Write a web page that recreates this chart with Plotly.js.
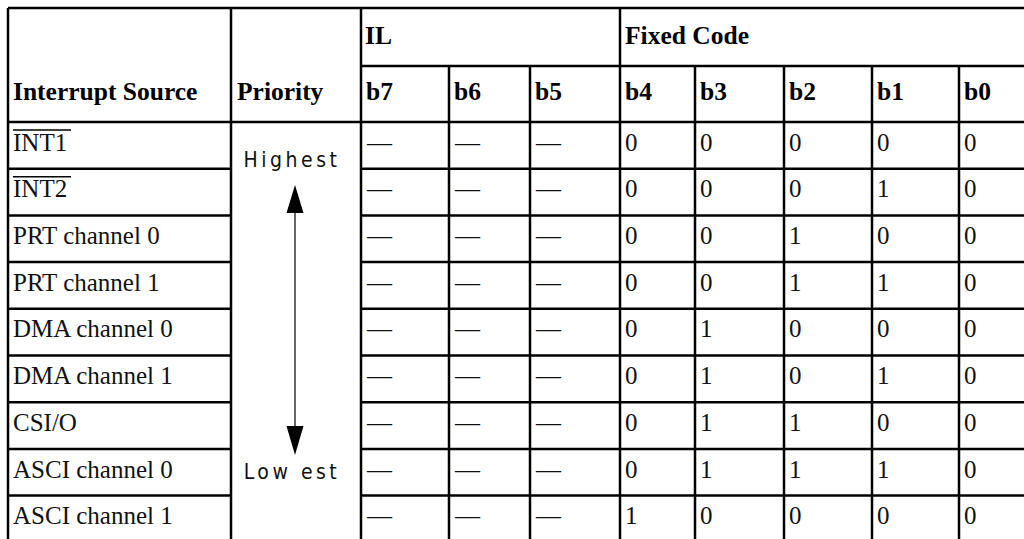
<!DOCTYPE html>
<html><head><meta charset="utf-8">
<script src="https://cdn.plot.ly/plotly-3.0.1.min.js"></script>
<style>html,body{margin:0;padding:0;background:#fff;overflow:hidden}</style>
</head><body><div id="chart" style="width:1024px;height:539px"></div>
<script>
// ---- data ----
const sources = ["INT1", "INT2", "PRT channel 0", "PRT channel 1", "DMA channel 0",
                 "DMA channel 1", "CSI/O", "ASCI channel 0", "ASCI channel 1"];
const activeLow = ["INT1", "INT2"];
const columnHeaders = ["Interrupt Source", "Priority"];
const groupHeaders = ["IL", "Fixed Code"];
const ilBits = ["b7", "b6", "b5"];
const fixedBits = ["b4", "b3", "b2", "b1", "b0"];
const ilValues = [
  ["—", "—", "—"], ["—", "—", "—"], ["—", "—", "—"],
  ["—", "—", "—"], ["—", "—", "—"], ["—", "—", "—"],
  ["—", "—", "—"], ["—", "—", "—"], ["—", "—", "—"]
];
const fixedCode = [
  [0, 0, 0, 0, 0],
  [0, 0, 0, 1, 0],
  [0, 0, 1, 0, 0],
  [0, 0, 1, 1, 0],
  [0, 1, 0, 0, 0],
  [0, 1, 0, 1, 0],
  [0, 1, 1, 0, 0],
  [0, 1, 1, 1, 0],
  [1, 0, 0, 0, 0]
];
const priorityLabels = ["Highest", "Low est"];

// ---- layout geometry ----
const W = 1024, H = 539;
const colEdges = [8, 231, 361, 449, 530, 620, 695, 784, 872, 959, 1046];
const topY = 8, groupY = 66, headY = 122, rowH = 46.7;
const pad = 5;
const lineW = 2.5;
const serif = "Liberation Serif, Times New Roman, serif";
const narrow = "DejaVu Sans Condensed, Liberation Sans Narrow, Arial Narrow, sans-serif";

const rowTop = i => headY + i * rowH;
const rowMid = i => rowTop(i) + rowH / 2 - 1;
const bottomY = rowTop(sources.length);

// header text trace
const hx = [], hy = [], ht = [];
hx.push(colEdges[0] + pad, colEdges[1] + pad + 1); hy.push((groupY + headY) / 2, (groupY + headY) / 2);
ht.push(columnHeaders[0], columnHeaders[1]);
hx.push(colEdges[2] + pad - 1, colEdges[5] + pad); hy.push((topY + groupY) / 2 + 1, (topY + groupY) / 2 + 1);
ht.push(groupHeaders[0], groupHeaders[1]);
const bits = ilBits.concat(fixedBits);
bits.forEach((b, k) => { hx.push(colEdges[2 + k] + pad); hy.push((groupY + headY) / 2); ht.push(b); });

// body text trace
const bx = [], by = [], bt = [];
sources.forEach((s, i) => {
  bx.push(colEdges[0] + pad); by.push(rowMid(i)); bt.push(s);
  ilValues[i].forEach((v, k) => { bx.push(colEdges[2 + k] + pad + 1); by.push(rowMid(i)); bt.push(v); });
  fixedCode[i].forEach((v, k) => { bx.push(colEdges[5 + k] + pad); by.push(rowMid(i)); bt.push(String(v)); });
});

const priCx = (colEdges[1] + colEdges[2]) / 2 - 1;
const labelCx = priCx - 3;
const traces = [
  { type: "scatter", mode: "text", x: hx, y: hy, text: ht.map(t => "<b>" + t + "</b>"),
    textposition: "middle right", textfont: { family: serif, size: 25.5, color: "#000" },
    hoverinfo: "skip", showlegend: false },
  { type: "scatter", mode: "text", x: bx, y: by, text: bt,
    textposition: "middle right", textfont: { family: serif, size: 25, color: "#111" },
    hoverinfo: "skip", showlegend: false },
  { type: "scatter", mode: "text", x: [labelCx, labelCx], y: [rowMid(0) + 17, rowMid(7) + 2],
    text: priorityLabels.map(t => '<span style="letter-spacing:3.5px">' + t + '</span>'),
    textposition: "middle center", textfont: { family: narrow, size: 21, color: "#111" },
    hoverinfo: "skip", showlegend: false }
];

// grid lines
const shapes = [];
const ln = (x0, y0, x1, y1, w) => shapes.push({ type: "line", xref: "x", yref: "y", x0, y0, x1, y1,
  line: { color: "#000", width: w || lineW } });
ln(colEdges[0], topY, colEdges[colEdges.length - 1], topY);            // top border
ln(colEdges[2], groupY, colEdges[colEdges.length - 1], groupY);        // under group headers
ln(colEdges[0], headY, colEdges[colEdges.length - 1], headY);          // under headers
for (let i = 1; i <= sources.length; i++) {
  ln(colEdges[0], rowTop(i), colEdges[1], rowTop(i));
  ln(colEdges[2], rowTop(i), colEdges[colEdges.length - 1], rowTop(i));
}
[0, 1, 2, 5, 10].forEach(k => ln(colEdges[k], topY, colEdges[k], bottomY));
[3, 4, 6, 7, 8, 9].forEach(k => ln(colEdges[k], groupY, colEdges[k], bottomY));

// overlines for active-low signals
sources.forEach((s, i) => {
  if (activeLow.includes(s)) ln(colEdges[0] + pad, rowTop(i) + 8, colEdges[0] + pad + 58, rowTop(i) + 8, 1.6);
});

// priority arrow
const upTip = 185, upBase = 213, dnBase = 426, dnTip = 455, hw = 8.5;
ln(priCx, upBase, priCx, dnBase, 1.2);
shapes.push({ type: "path", xref: "x", yref: "y",
  path: `M${priCx},${upTip} L${priCx - hw},${upBase} L${priCx + hw},${upBase} Z`,
  fillcolor: "#000", line: { width: 0 } });
shapes.push({ type: "path", xref: "x", yref: "y",
  path: `M${priCx},${dnTip} L${priCx - hw},${dnBase} L${priCx + hw},${dnBase} Z`,
  fillcolor: "#000", line: { width: 0 } });

const layout = {
  width: W, height: H,
  margin: { l: 0, r: 0, t: 0, b: 0, pad: 0 },
  paper_bgcolor: "#fff", plot_bgcolor: "#fff",
  xaxis: { range: [0, W], visible: false, fixedrange: true },
  yaxis: { range: [H, 0], visible: false, fixedrange: true },
  shapes: shapes,
  showlegend: false
};
Plotly.newPlot("chart", traces, layout, { staticPlot: true, displayModeBar: false });
</script>
</body></html>
